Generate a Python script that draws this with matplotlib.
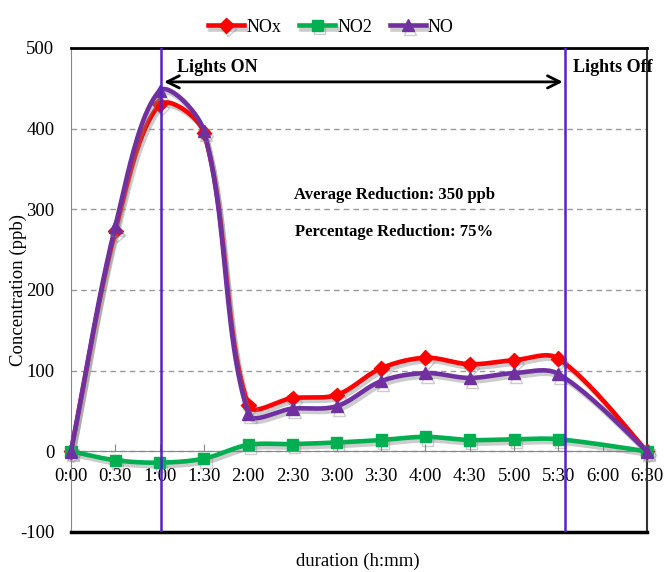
import numpy as np
import matplotlib
matplotlib.use("Agg")
import matplotlib.pyplot as plt
import matplotlib.patheffects as pe

plt.rcParams['font.family'] = ['Liberation Serif', 'DejaVu Serif']
plt.rcParams['axes.unicode_minus'] = False

# data (minutes since start; no reading at 6:00)
minutes = [0, 30, 60, 90, 120, 150, 180, 210, 240, 270, 300, 330, 390]
nox = [0, 273, 430, 395, 57, 66, 70, 103, 116, 108, 113, 115, 0]
no2 = [0, -11, -14, -9, 8, 9, 11, 14, 18, 14, 15, 15, 0]
no = [0, 279, 447, 397, 47, 53, 56, 87, 97, 91, 97, 96, 0]

tick_minutes = list(range(0, 391, 30))
tick_labels = ['0:00', '0:30', '1:00', '1:30', '2:00', '2:30', '3:00', '3:30',
               '4:00', '4:30', '5:00', '5:30', '6:00', '6:30']
lights_on = 61
lights_off = 334.5


def smooth(xs, ys, sx, sy, n=25):
    # bezier smoothing like a spreadsheet "smoothed line", in pixel space
    P = np.column_stack([np.asarray(xs, float) * sx, np.asarray(ys, float) * sy])
    out = [P[0]]
    t = np.linspace(0, 1, n)[1:, None]
    for i in range(len(P) - 1):
        p0 = P[i - 1] if i > 0 else P[i]
        p1, p2 = P[i], P[i + 1]
        p3 = P[i + 2] if i + 2 < len(P) else P[i + 1]
        d01 = np.linalg.norm(p1 - p0)
        d12 = np.linalg.norm(p2 - p1)
        d23 = np.linalg.norm(p3 - p2)
        c1 = p1 + (p2 - p0) / 3 * d12 / (d01 + d12)
        c2 = p2 - (p3 - p1) / 3 * d12 / (d12 + d23)
        if i + 2 >= len(P):
            c2 = p2 - (p2 - p1) / 6
        seg = (1 - t)**3 * p1 + 3 * (1 - t)**2 * t * c1 + 3 * (1 - t) * t**2 * c2 + t**3 * p2
        out.extend(seg)
    out = np.array(out)
    return out[:, 0] / sx, out[:, 1] / sy, list(range(0, len(out), n - 1))


fig = plt.figure(figsize=(6.65, 5.72), dpi=100)
ax = fig.add_axes([71 / 665, 40 / 572, 576 / 665, 484 / 572])

sx = 576 / 390
sy = 484 / 600
shadow = [pe.SimpleLineShadow(offset=(1.5, -2.5), shadow_color='gray', alpha=0.4), pe.Normal()]

series = [('NOx', nox, '#FF0000', 'D', 7.5),
          ('NO2', no2, '#00B050', 's', 8),
          ('NO', no, '#7030A0', '^', 9)]
for name, vals, col, mk, ms in series:
    xs, ys, idx = smooth(minutes, vals, sx, sy)
    ax.plot(xs, ys, color=col, lw=3.3, marker=mk, ms=ms, markevery=idx,
            label=name, path_effects=shadow, zorder=4, clip_on=False)

ax.set_xlim(0, 390)
ax.set_ylim(-100, 500)
ax.set_yticks(range(-100, 501, 100))
ax.set_xticks(tick_minutes)
ax.set_xticklabels(tick_labels)

ax.grid(axis='y', ls=(0, (4, 3)), color='#999999', lw=1)
ax.set_axisbelow(True)

ax.spines['bottom'].set_position(('data', 0))
ax.spines['bottom'].set_color('#888888')
ax.spines['left'].set_color('#888888')
ax.spines['top'].set_color('black')
ax.spines['top'].set_linewidth(2)
ax.spines['right'].set_color('#333333')
ax.spines['right'].set_linewidth(1.5)
ax.axhline(-100, color='black', lw=2.5, clip_on=False, zorder=3)

ax.tick_params(axis='x', direction='in', length=5, color='#888888', labelsize=13.5, pad=12)
ax.tick_params(axis='y', length=0, labelsize=13.5, pad=12)

ax.axvline(lights_on, color='#5223C6', lw=1.8, zorder=5)
ax.axvline(lights_off, color='#5223C6', lw=1.8, zorder=5)

ax.annotate('', xy=(lights_on + 2, 458), xytext=(lights_off - 1.5, 458),
            arrowprops=dict(arrowstyle='<->', lw=2, color='black',
                            mutation_scale=22, shrinkA=0, shrinkB=0), zorder=6)
ax.text(72, 476, 'Lights ON', fontsize=13, fontweight='bold', va='center')
ax.text(340, 476, 'Lights Off', fontsize=13, fontweight='bold', va='center')

ax.text(219, 318, 'Average Reduction: 350 ppb', fontsize=12, fontweight='bold',
        ha='center', va='center')
ax.text(219, 272, 'Percentage Reduction: 75%', fontsize=12, fontweight='bold',
        ha='center', va='center')

fig.text(18 / 665, 1 - 290 / 572, 'Concentration (ppb)', rotation=90,
         fontsize=13.5, ha='center', va='center')
fig.text(358 / 665, 1 - 561 / 572, 'duration (h:mm)', fontsize=13.5,
         ha='center', va='center')

fig.legend(loc='center', bbox_to_anchor=(331 / 665, 1 - 27 / 572), ncol=3,
           frameon=False, fontsize=13, handlelength=2.0, handletextpad=0.1,
           columnspacing=1.0)

fig.savefig('out.png', dpi=100)
